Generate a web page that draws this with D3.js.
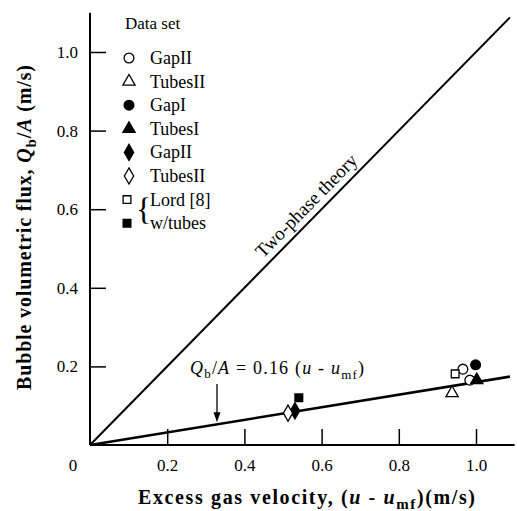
<!DOCTYPE html>
<html>
<head>
<meta charset="utf-8">
<script src="https://cdn.jsdelivr.net/npm/d3@7"></script>
<style>
  html, body { margin: 0; padding: 0; background: #fff; }
  svg { display: block; }
  svg text { font-family: "Liberation Serif", "Times New Roman", serif; fill: #000; }
</style>
</head>
<body>
<svg id="chart" width="517" height="511"></svg>
<script>
// Measured data sets: excess gas velocity (m/s) vs bubble volumetric flux (m/s)
const seriesNames = ["GapII", "TubesII", "GapI", "TubesI", "GapII", "TubesII", "Lord [8]", "w/tubes"];
const seriesSymbols = ["circle", "triangle", "circle", "triangle", "diamond", "diamond", "square", "square"];
const seriesFilled = [false, false, true, true, true, false, false, true];

const pointSeries = [0, 0, 1, 2, 3, 4, 5, 6, 7];
const pointX = [0.966, 0.984, 0.938, 0.999, 1.002, 0.531, 0.513, 0.946, 0.541];
const pointY = [0.193, 0.165, 0.132, 0.204, 0.165, 0.087, 0.081, 0.181, 0.120];

// Reference lines
const twoPhaseSlope = 1.0;
const fitSlope = 0.16;
const lineEnd = 1.088;

const xTicks = [0.2, 0.4, 0.6, 0.8, 1.0];
const yTicks = [0.2, 0.4, 0.6, 0.8, 1.0];

const FONT = "Liberation Serif";
const svg = d3.select("#chart");
const x = d3.scaleLinear().domain([0, 1.1]).range([90, 514.6]);
const y = d3.scaleLinear().domain([0, 1.1]).range([445, 12.7]);

// Axes with inward ticks
const xAxis = d3.axisBottom(x).tickValues(xTicks).tickSize(-16).tickFormat(d3.format(".1f")).tickPadding(14);
const yAxis = d3.axisLeft(y).tickValues(yTicks).tickSize(-16).tickFormat(d3.format(".1f")).tickPadding(12);

const gx = svg.append("g").attr("transform", `translate(0,${y(0)})`).call(xAxis);
const gy = svg.append("g").attr("transform", `translate(${x(0)},0)`).call(yAxis);
[gx, gy].forEach(g => {
  g.attr("font-family", FONT).attr("font-size", 17);
  g.select(".domain").attr("stroke", "#000").attr("stroke-width", 2);
  g.selectAll(".tick line").attr("stroke", "#000").attr("stroke-width", 1.5);
  g.selectAll(".tick text").attr("fill", "#000").style("font-family", FONT).style("font-size", "17px");
});
gx.select(".domain").attr("d", `M${x(0)},0H${x(1.1)}`);
gy.select(".domain").attr("d", `M0,${y(0)}V${y(1.1)}`);

svg.append("text").attr("x", x(0) - 17).attr("y", y(0) + 26)
  .attr("text-anchor", "middle").style("font-size", "17px").text("0");

// Two-phase theory line and fitted correlation
const line = d3.line().x(d => x(d[0])).y(d => y(d[1]));
svg.append("path").datum([[0, 0], [lineEnd, twoPhaseSlope * lineEnd]])
  .attr("d", line).attr("stroke", "#000").attr("stroke-width", 2).attr("fill", "none");
svg.append("path").datum([[0, 0], [lineEnd, fitSlope * lineEnd]])
  .attr("d", line).attr("stroke", "#000").attr("stroke-width", 2.6).attr("fill", "none");

// Label along the two-phase line
const ang = -Math.atan2(y(0) - y(1), x(1) - x(0)) * 180 / Math.PI;
const lu = 0.585;
svg.append("text")
  .attr("transform", `translate(${x(lu)},${y(lu)}) rotate(${ang}) translate(0,-7)`)
  .attr("text-anchor", "middle").style("font-size", "19px").text("Two-phase theory");

// Correlation annotation with arrow
const annot = svg.append("text").attr("x", 190).attr("y", 374).style("font-size", "18px")
  .attr("textLength", 174).attr("lengthAdjust", "spacing");
annot.append("tspan").style("font-style", "italic").text("Q");
annot.append("tspan").attr("dy", 4).style("font-size", "13px").text("b");
annot.append("tspan").attr("dy", -4).text("/");
annot.append("tspan").style("font-style", "italic").text("A");
annot.append("tspan").text(" = " + fitSlope.toFixed(2) + " (");
annot.append("tspan").style("font-style", "italic").text("u");
annot.append("tspan").text(" - ");
annot.append("tspan").style("font-style", "italic").text("u");
annot.append("tspan").attr("dy", 5).style("font-size", "13px").text("mf");
annot.append("tspan").attr("dy", -5).text(")");

const ax = 0.329;
svg.append("line").attr("x1", x(ax)).attr("x2", x(ax)).attr("y1", 384).attr("y2", y(fitSlope * ax) - 6)
  .attr("stroke", "#000").attr("stroke-width", 1.3);
svg.append("path")
  .attr("d", `M${x(ax) - 3.5},${y(fitSlope * ax) - 12}L${x(ax) + 3.5},${y(fitSlope * ax) - 12}L${x(ax)},${y(fitSlope * ax) - 2}Z`)
  .attr("fill", "#000");

// Symbol generator
const symbolType = {circle: d3.symbolCircle, triangle: d3.symbolTriangle, diamond: d3.symbolDiamond, square: d3.symbolSquare};
const symbolSize = {circle: 75, triangle: 65, diamond: 75, square: 60};
function drawSymbol(g, kind, filled, cx, cy) {
  g.append("path")
    .attr("d", d3.symbol().type(symbolType[kind]).size(symbolSize[kind])())
    .attr("transform", `translate(${cx},${cy})`)
    .attr("fill", filled ? "#000" : "#fff")
    .attr("stroke", "#000").attr("stroke-width", 1.3);
}

// Data points
const pts = svg.append("g");
pointX.forEach((v, i) => {
  const s = pointSeries[i];
  drawSymbol(pts, seriesSymbols[s], seriesFilled[s], x(v), y(pointY[i]));
});

// Legend
const lg = svg.append("g");
lg.append("text").attr("x", 125).attr("y", 29).style("font-size", "17px").text("Data set");
const rowY = i => 58 + i * 23.6;
seriesNames.forEach((name, i) => {
  const isLord = i >= 6;
  drawSymbol(lg, seriesSymbols[i], seriesFilled[i], isLord ? 127 : 129, rowY(i));
  lg.append("text").attr("x", 150).attr("y", rowY(i) + 6).style("font-size", "18px").text(name);
});
// Brace grouping the Lord [8] rows
lg.append("text").attr("x", 136).attr("y", rowY(6.5) + 9).style("font-size", "32px")
  .style("font-weight", "300").text("{");

// Axis titles
const xl = svg.append("text").attr("x", 138).attr("y", 504)
  .attr("textLength", 337).attr("lengthAdjust", "spacing")
  .style("font-size", "20px").style("font-weight", "bold");
xl.append("tspan").text("Excess gas velocity, (");
xl.append("tspan").style("font-style", "italic").text("u");
xl.append("tspan").text(" - ");
xl.append("tspan").style("font-style", "italic").text("u");
xl.append("tspan").attr("dy", 5).style("font-size", "15px").text("mf");
xl.append("tspan").attr("dy", -5).text(")(m/s)");

const yl = svg.append("text").attr("transform", "translate(31,390) rotate(-90)")
  .attr("textLength", 325).attr("lengthAdjust", "spacing")
  .style("font-size", "20px").style("font-weight", "bold");
yl.append("tspan").text("Bubble volumetric flux, ");
yl.append("tspan").style("font-style", "italic").text("Q");
yl.append("tspan").attr("dy", 5).style("font-size", "15px").text("b");
yl.append("tspan").attr("dy", -5).text("/");
yl.append("tspan").style("font-style", "italic").text("A");
yl.append("tspan").text(" (m/s)");
</script>
</body>
</html>
